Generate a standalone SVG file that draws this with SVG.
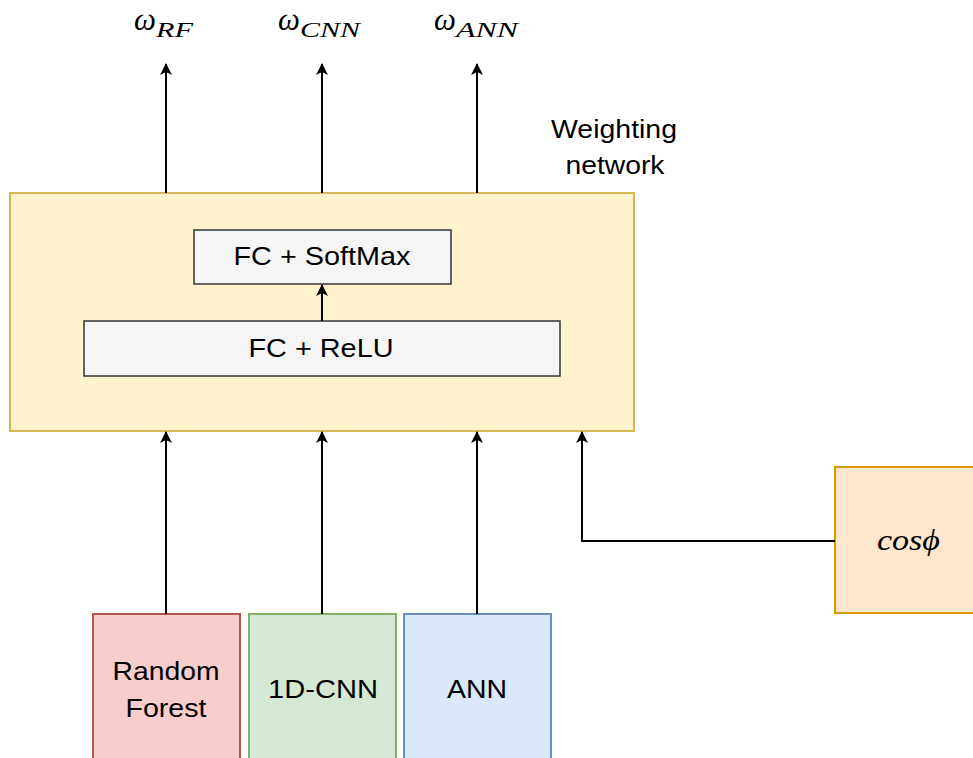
<svg xmlns="http://www.w3.org/2000/svg" width="973" height="758" viewBox="0 0 973 758">
<style>
.t{font-family:"Liberation Sans",Arial,sans-serif;font-size:25px;fill:#000;text-anchor:middle}
.m{font-family:"Liberation Serif","Times New Roman",serif;font-style:italic;fill:#000}
.w{font-size:31px}
.s{font-size:22px}
.c{fill:none;stroke:#000;stroke-width:2}
</style>
<defs>
<marker id="a" viewBox="0 0 12 12" refX="11" refY="6" markerWidth="12" markerHeight="12" markerUnits="userSpaceOnUse" orient="auto">
<path d="M0,0 L12,6 L0,12 L3,6 Z" fill="#000"/>
</marker>
</defs>
<rect width="973" height="758" fill="#fff"/>
<g id="weighting-network">
<rect x="10" y="193" width="624" height="238" fill="#fff2cc" stroke="#d6b656" stroke-width="2"/>
<text class="t" x="614" y="138" textLength="126" lengthAdjust="spacingAndGlyphs">Weighting</text>
<text class="t" x="615" y="174" textLength="99" lengthAdjust="spacingAndGlyphs">network</text>
</g>
<g id="fc-softmax">
<rect x="194" y="230" width="257" height="54" fill="#f5f5f5" stroke="#333" stroke-width="1.5"/>
<text class="t" x="322" y="265" textLength="177" lengthAdjust="spacingAndGlyphs">FC + SoftMax</text>
</g>
<g id="fc-relu">
<rect x="84" y="321" width="476" height="55" fill="#f5f5f5" stroke="#333" stroke-width="1.5"/>
<text class="t" x="321" y="357" textLength="145" lengthAdjust="spacingAndGlyphs">FC + ReLU</text>
</g>
<g id="random-forest">
<rect x="93" y="614" width="147" height="150" fill="#f8cecc" stroke="#b85450" stroke-width="2"/>
<text class="t" x="166" y="680" textLength="107" lengthAdjust="spacingAndGlyphs">Random</text>
<text class="t" x="166" y="717" textLength="81" lengthAdjust="spacingAndGlyphs">Forest</text>
</g>
<g id="cnn">
<rect x="249" y="614" width="147" height="150" fill="#d5e8d4" stroke="#82b366" stroke-width="2"/>
<text class="t" x="323" y="698" textLength="110" lengthAdjust="spacingAndGlyphs">1D-CNN</text>
</g>
<g id="ann">
<rect x="404" y="614" width="147" height="150" fill="#dae8fc" stroke="#6c8ebf" stroke-width="2"/>
<text class="t" x="477" y="698" textLength="60" lengthAdjust="spacingAndGlyphs">ANN</text>
</g>
<g id="cosphi">
<rect x="835" y="467" width="150" height="146" fill="#ffe6cc" stroke="#d79b00" stroke-width="2"/>
<text class="m" x="877" y="550" font-size="30" textLength="63" lengthAdjust="spacingAndGlyphs">cosϕ</text>
</g>
<g id="outputs">
<text class="m w" x="134" y="30">ω</text>
<text class="m s" x="156" y="37" textLength="37" lengthAdjust="spacingAndGlyphs">RF</text>
<text class="m w" x="278" y="30">ω</text>
<text class="m s" x="300" y="37" textLength="60" lengthAdjust="spacingAndGlyphs">CNN</text>
<text class="m w" x="434" y="30">ω</text>
<text class="m s" x="456" y="37" textLength="62" lengthAdjust="spacingAndGlyphs">ANN</text>
</g>
<g id="connectors">
<path class="c" d="M166,193 V64" marker-end="url(#a)"/>
<path class="c" d="M322,193 V64" marker-end="url(#a)"/>
<path class="c" d="M477,193 V64" marker-end="url(#a)"/>
<path class="c" d="M322,321 V285" marker-end="url(#a)"/>
<path class="c" d="M166,614 V432" marker-end="url(#a)"/>
<path class="c" d="M322,614 V432" marker-end="url(#a)"/>
<path class="c" d="M477,614 V432" marker-end="url(#a)"/>
<path class="c" d="M835,541 H582 V432" marker-end="url(#a)"/>
</g>
</svg>
